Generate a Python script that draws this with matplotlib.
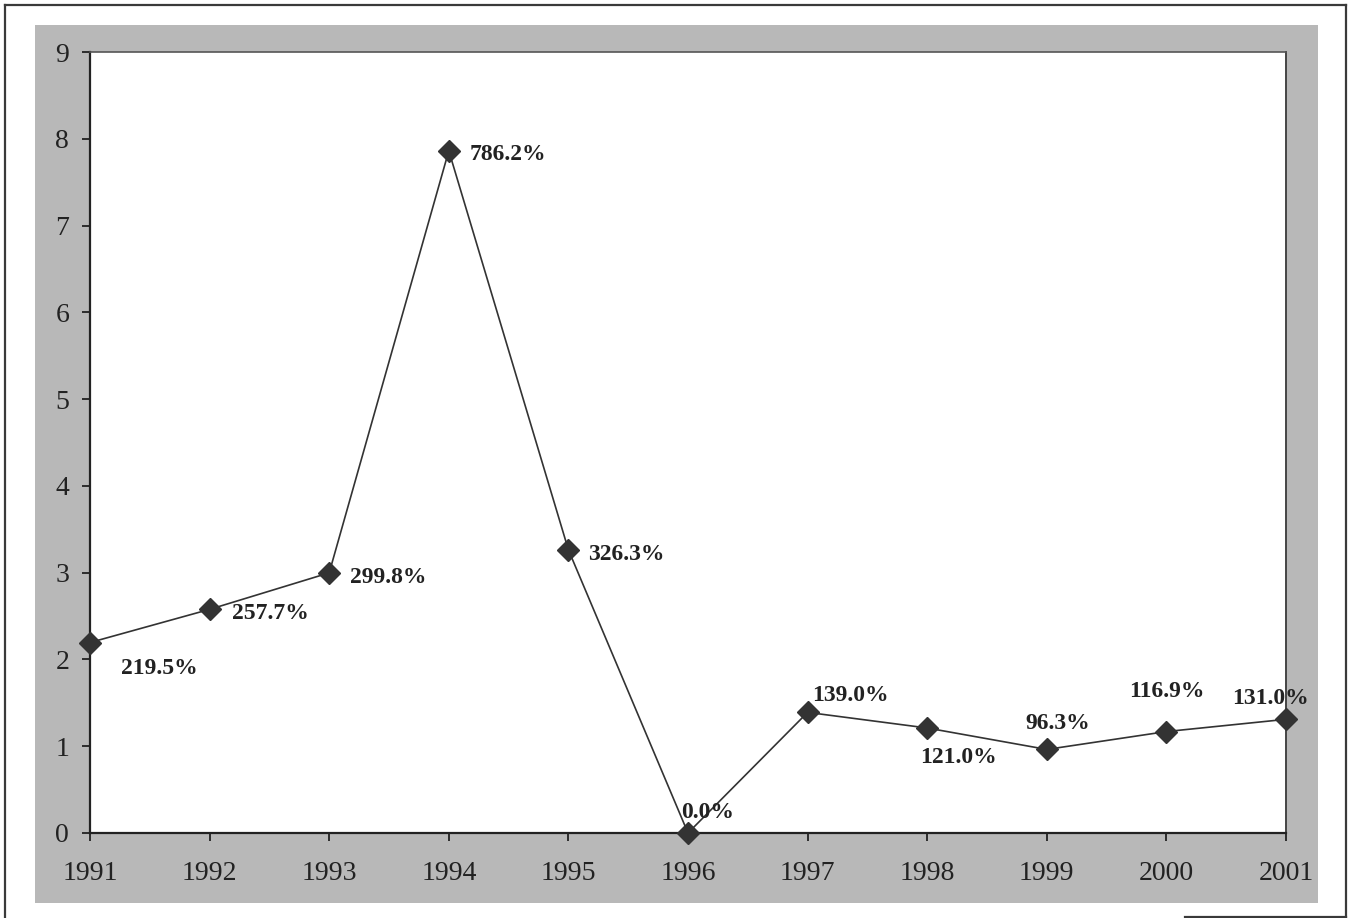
import matplotlib
matplotlib.use("Agg")
import matplotlib.pyplot as plt
from matplotlib.patches import Rectangle
from matplotlib.lines import Line2D

# yearly ratio series (values in units, labels in percent)
years = [1991, 1992, 1993, 1994, 1995, 1996, 1997, 1998, 1999, 2000, 2001]
pct = [219.5, 257.7, 299.8, 786.2, 326.3, 0.0, 139.0, 121.0, 96.3, 116.9, 131.0]
values = [p / 100 for p in pct]
y_ticks = list(range(0, 10))

# label offsets in points (dx, dy) and horizontal alignment
label_pos = [
    (22, -19, "left"), (16, -3, "left"), (15, -3, "left"), (15, -3, "left"),
    (14, -3, "left"), (-5, 15, "left"), (3, 12, "left"), (-5, -21, "left"),
    (8, 19, "center"), (0, 29, "center"), (-11, 15, "center"),
]

plt.rcParams['font.family'] = ['Liberation Serif', 'DejaVu Serif']

fig = plt.figure(figsize=(13.54, 9.18), dpi=100)
fig.patch.set_facecolor("white")

# gray frame behind the plot
fig.patches.append(Rectangle((35 / 1354, 1 - 903 / 918), 1283 / 1354, 878 / 918,
                             transform=fig.transFigure, facecolor="#b8b8b8",
                             edgecolor="none", zorder=-5))
# outer page border
border = dict(transform=fig.transFigure, color="#3a3a3a", lw=1.6, zorder=-4)
fig.lines.append(Line2D([5 / 1354, 5 / 1354], [0, 1 - 5 / 918], **border))
fig.lines.append(Line2D([5 / 1354, 1346 / 1354], [1 - 5 / 918, 1 - 5 / 918], **border))
fig.lines.append(Line2D([1346 / 1354, 1346 / 1354], [1 - 5 / 918, 1 / 918], **border))
fig.lines.append(Line2D([1185 / 1354, 1346 / 1354], [1 / 918, 1 / 918], **border))

ax = fig.add_axes([90 / 1354, 1 - 833 / 918, 1196 / 1354, 781 / 918])
ax.set_facecolor("white")

ax.plot(years, values, color="#333333", lw=1.2, marker="D", markersize=11,
        markerfacecolor="#333333", markeredgecolor="#333333", clip_on=False, zorder=3)

for x, y, p, (dx, dy, ha) in zip(years, values, pct, label_pos):
    ax.annotate(f"{p:.1f}%", (x, y), xytext=(dx, dy), textcoords="offset points",
                ha=ha, va="center", fontsize=17, fontweight="bold", color="#222222")

ax.set_xlim(years[0], years[-1])
ax.set_ylim(0, 9)
ax.set_xticks(years)
ax.set_yticks(y_ticks)
ax.tick_params(axis="both", direction="out", length=6, width=1.3, color="#222222",
               labelsize=20, labelcolor="#222222")
ax.tick_params(axis="x", pad=14)
ax.tick_params(axis="y", pad=9)

for side in ("left", "bottom"):
    ax.spines[side].set_color("#222222")
    ax.spines[side].set_linewidth(1.6)
ax.spines["top"].set_color("#555555")
ax.spines["top"].set_linewidth(1.2)
ax.spines["right"].set_color("#444444")
ax.spines["right"].set_linewidth(1.4)

fig.savefig("out.png", dpi=100)
